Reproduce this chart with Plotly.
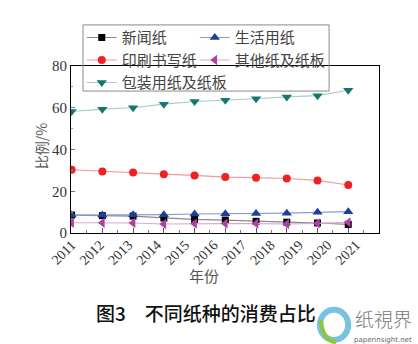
import plotly.graph_objects as go

# Consumption share of paper grades (%), ten sampled points each
newsprint = [8.6, 8.3, 8.1, 7.2, 6.5, 6.2, 5.6, 5.2, 4.8, 4.1]
tissue = [8.6, 8.6, 8.8, 8.8, 9.1, 9.2, 9.4, 9.5, 9.9, 10.2]
printing = [30.3, 29.5, 29.0, 28.2, 27.6, 26.8, 26.5, 26.1, 25.2, 23.0]
other_board = [4.9, 4.9, 4.8, 4.3, 4.5, 4.5, 4.5, 4.3, 4.6, 5.1]
packaging = [58.2, 59.3, 60.0, 61.7, 63.0, 63.6, 64.3, 65.2, 65.8, 68.4]

# Year labels along the bottom axis
years = ["2011", "2012", "2013", "2014", "2015", "2016",
         "2017", "2018", "2019", "2020", "2021"]

idx = list(range(len(packaging)))
label_pos = [0.925 * i for i in range(len(years))]

# name, values, marker symbol, marker colour, line colour, marker size, legend column
series = [
    ("新闻纸", newsprint, "square", "#000000", "#8a8a8a", 7, "legend"),
    ("生活用纸", tissue, "triangle-up", "#1f3d9c", "#8c9ad0", 9, "legend2"),
    ("印刷书写纸", printing, "circle", "#ee2222", "#f49a9a", 8, "legend"),
    ("其他纸及纸板", other_board, "triangle-left", "#b040a4", "#dba8d6", 9, "legend2"),
    ("包装用纸及纸板", packaging, "triangle-down", "#15766f", "#a6cdc9", 9, "legend"),
]

fig = go.Figure()
for name, vals, sym, mcol, lcol, size, leg in series:
    fig.add_trace(go.Scatter(
        x=idx, y=vals, name=name, mode="lines+markers", legend=leg,
        line=dict(color=lcol, width=1.2),
        marker=dict(symbol=sym, color=mcol, size=size, line=dict(width=0)),
    ))

# Helper trace carrying the year labels axis
fig.add_trace(go.Scatter(x=label_pos, y=[None] * len(years), xaxis="x2",
                         showlegend=False, hoverinfo="skip", mode="markers"))

serif = "Liberation Serif, Times New Roman, serif"
cjk = "Noto Sans CJK SC"
legend_font = dict(family=cjk, size=15, color="#444444")

fig.update_layout(
    width=418, height=344,
    margin=dict(l=71, r=39, t=66, b=111),
    paper_bgcolor="white", plot_bgcolor="white",
    showlegend=True,
    legend=dict(
        orientation="v", x=0.035, y=1.268, xanchor="left", yanchor="top",
        bgcolor="rgba(0,0,0,0)", borderwidth=0, font=legend_font,
        tracegroupgap=0, itemwidth=30,
    ),
    legend2=dict(
        orientation="v", x=0.402, y=1.268, xanchor="left", yanchor="top",
        bgcolor="rgba(0,0,0,0)", borderwidth=0, font=legend_font,
        tracegroupgap=0, itemwidth=30,
    ),
    xaxis=dict(
        range=[-0.02, 10.0], tickvals=idx, showticklabels=False,
        ticks="inside", ticklen=5, tickcolor="#555555",
        minor=dict(tickvals=[i + 0.5 for i in idx], ticks="inside",
                   ticklen=3, tickcolor="#777777"),
        showline=True, linecolor="black", linewidth=1, mirror=True,
        showgrid=False, zeroline=False,
    ),
    xaxis2=dict(
        overlaying="x", anchor="y", side="bottom",
        range=[-0.02, 10.0], tickvals=label_pos, ticktext=years,
        tickangle=-45, ticks="", showline=False, showgrid=False,
        zeroline=False, tickfont=dict(family=serif, size=14, color="#333333"),
    ),
    yaxis=dict(
        range=[0, 80], dtick=20, ticks="inside", ticklen=4,
        tickcolor="#777777",
        minor=dict(dtick=10, ticks="inside", ticklen=2, tickcolor="#999999"),
        tickfont=dict(family=serif, size=15, color="#333333"),
        showline=True, linecolor="black", linewidth=1, mirror=True,
        showgrid=False, zeroline=False,
    ),
    annotations=[
        dict(text="比例/%", xref="paper", yref="paper", x=-0.097, y=0.52,
             xanchor="center", yanchor="middle", textangle=-90, showarrow=False,
             font=dict(family=cjk, size=14, color="#555555")),
        dict(text="年份", xref="paper", yref="paper", x=0.432, y=-0.257,
             xanchor="center", yanchor="middle", showarrow=False,
             font=dict(family=cjk, size=15, color="#555555")),
        dict(text="图3\u3000不同纸种的消费占比", xref="paper", yref="paper",
             x=0.438, y=-0.479, xanchor="center", yanchor="middle",
             showarrow=False,
             font=dict(family=cjk, size=19, color="#111111", weight=500)),
        dict(text="纸視界", xref="paper", yref="paper", x=1.013, y=-0.512,
             xanchor="center", yanchor="middle", showarrow=False,
             font=dict(family=cjk, size=19, color="#777777", weight=300)),
        dict(text="paperinsight.net", xref="paper", yref="paper", x=1.013,
             y=-0.640, xanchor="center", yanchor="middle", showarrow=False,
             font=dict(family="DejaVu Sans", size=7, color="#666666")),
    ],
    shapes=[
        # shared frame around both legend columns
        dict(type="rect", xref="paper", yref="paper",
             x0=0.039, x1=0.838, y0=0.850, y1=1.246,
             line=dict(color="#8a8a8a", width=1)),
        # round emblem next to the site name
        dict(type="circle", xref="paper", yref="paper",
             x0=0.808, x1=0.900, y0=-0.640, y1=-0.460,
             line=dict(color="#78c2e0", width=6)),
        dict(type="path", xref="paper", yref="paper",
             path="M 0.812 -0.52 Q 0.815 -0.64 0.86 -0.655",
             line=dict(color="#8cc63f", width=4)),
    ],
)

fig.write_html("out.html")
